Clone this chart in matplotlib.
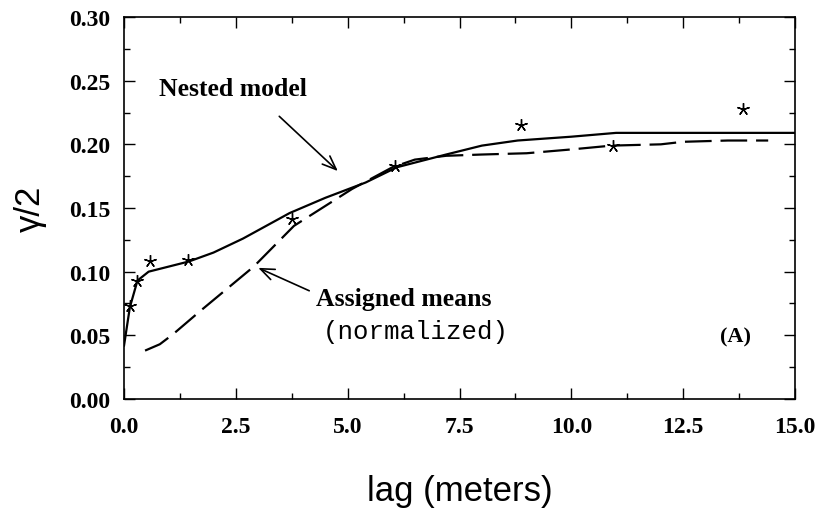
import numpy as np
import matplotlib
matplotlib.use("Agg")
import matplotlib.pyplot as plt
from matplotlib.ticker import MultipleLocator, FormatStrFormatter

# experimental variogram points (stars)
lag_pts = [0.13, 0.29, 0.58, 1.43, 3.76, 6.06, 8.88, 10.93, 13.84]
gam_pts = [0.073, 0.093, 0.108, 0.109, 0.141, 0.183, 0.215, 0.199, 0.228]

# nested model (solid)
lag_model = [0, 0.13, 0.3, 0.55, 1.0, 1.45, 2.0, 2.66, 3.7, 4.5, 5.4, 6.1, 7.2, 8.0, 8.8, 10.0, 11.0, 12.5, 15.0]
gam_model = [0.042, 0.072, 0.093, 0.100, 0.104, 0.108, 0.115, 0.126, 0.146, 0.158, 0.170, 0.182,
             0.192, 0.199, 0.203, 0.206, 0.209, 0.209, 0.209]

# assigned means, normalized (dashed)
lag_means = [0.47, 0.8, 1.1, 1.7, 2.9, 3.8, 5.1, 6.0, 6.5, 7.2, 8.0, 9.0, 10.0, 10.9, 12.0, 12.5, 13.5, 14.4]
gam_means = [0.038, 0.043, 0.051, 0.069, 0.104, 0.136, 0.165, 0.182, 0.188, 0.191, 0.192, 0.193,
             0.196, 0.199, 0.200, 0.202, 0.203, 0.203]

serif = "Liberation Serif"
sans = "Liberation Sans"
arrow = dict(arrowstyle="->,head_length=1.0,head_width=0.4", lw=1.2, color="black",
             shrinkA=0, shrinkB=0)

fig = plt.figure(figsize=(8.22, 5.10), dpi=100)
ax = fig.add_axes([0.1509, 0.2157, 0.8163, 0.749])

ax.plot(lag_model, gam_model, color="black", lw=1.6, solid_joinstyle="round")
ax.plot(lag_means, gam_means, color="black", lw=1.6, dashes=(12, 4))
ax.plot(lag_pts, gam_pts, linestyle="none", marker=(5, 2, 0), ms=9, mew=1.0, color="black")

ax.set_xlim(0, 15)
ax.set_ylim(0, 0.30)
ax.xaxis.set_major_locator(MultipleLocator(2.5))
ax.xaxis.set_minor_locator(MultipleLocator(1.25))
ax.yaxis.set_major_locator(MultipleLocator(0.05))
ax.yaxis.set_minor_locator(MultipleLocator(0.025))
ax.xaxis.set_major_formatter(FormatStrFormatter("%.1f"))
ax.yaxis.set_major_formatter(FormatStrFormatter("%.2f"))

ax.tick_params(which="both", direction="in", top=True, right=True, width=1.0, color="black")
ax.tick_params(which="major", length=8)
ax.tick_params(which="minor", length=4)
ax.tick_params(axis="x", which="major", pad=12)
ax.tick_params(axis="y", which="major", pad=10)
for lab in ax.get_xticklabels() + ax.get_yticklabels():
    lab.set_fontfamily(serif)
    lab.set_fontweight("bold")
    lab.set_fontsize(17)
for sp in ax.spines.values():
    sp.set_linewidth(1.2)

ax.set_xlabel("lag (meters)", fontsize=25, fontfamily=sans, labelpad=27)
ax.set_ylabel("γ/2", fontsize=25, fontfamily=sans, labelpad=16)

ax.annotate("", xy=(4.78, 0.179), xytext=(3.47, 0.222), arrowprops=arrow)
ax.text(2.44, 0.2435, "Nested model", ha="center", va="center",
        fontsize=18.5, fontweight="bold", fontfamily=serif)

ax.annotate("", xy=(3.0, 0.103), xytext=(4.14, 0.085), arrowprops=arrow)
ax.text(4.29, 0.0793, "Assigned means", ha="left", va="center",
        fontsize=18.5, fontweight="bold", fontfamily=serif)
ax.text(4.45, 0.0534, "(normalized)", ha="left", va="center",
        fontsize=18.5, fontfamily="Liberation Mono")
ax.text(13.66, 0.0487, "(A)", ha="center", va="center",
        fontsize=16, fontweight="bold", fontfamily=serif)

fig.savefig("out.png", dpi=100)
